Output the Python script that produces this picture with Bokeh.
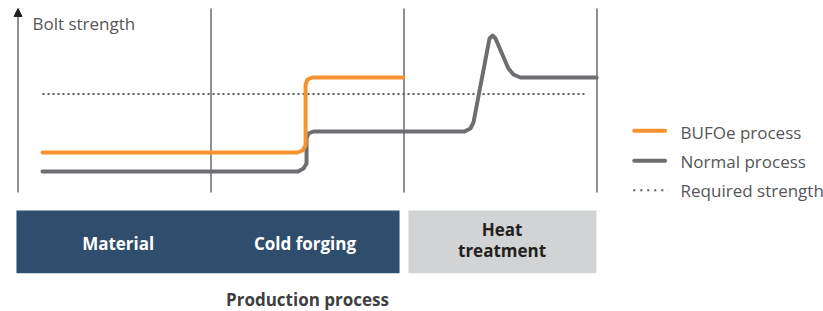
from bokeh.plotting import figure
from bokeh.models import Range1d, Arrow, NormalHead
from bokeh.core.properties import value
from bokeh.embed import file_html
from bokeh.resources import INLINE

# ---- data (x in process-stage units, y in relative strength units) ----
stage_edges = [1.0, 2.0, 3.0]
axis_top = 184

bufoe_x = [0.127, 1.448, 1.474, 1.490, 1.490, 1.500, 1.526, 1.995]
bufoe_y = [40, 40, 42, 47, 108, 113, 115, 115]

normal_x = [0.127, 1.451, 1.479, 1.495, 1.495, 1.505, 1.531, 2.313, 2.344, 2.360,
            2.443, 2.459, 2.474, 2.541, 2.567, 2.603, 2.998]
normal_y = [21, 21, 24, 29, 54, 59, 61, 61, 64, 70, 154, 157, 154, 124, 118, 115, 115]

required_x = [0.127, 2.935]
required_level = 98.5

box_left = [-0.008, 2.023]
box_right = [1.977, 2.997]
box_colors = ["#2f4e6e", "#d1d3d4"]
box_top, box_bottom = -18, -80.7

stage_names = ["Material", "Cold forging"]
stage_name_x = [0.519, 1.487]
heat_lines = ["Heat", "treatment"]
heat_x = 2.508
heat_y = [-37, -58]

legend_labels = ["BUFOe process", "Normal process", "Required strength"]
legend_line_y = [61.7, 31.7, 2.3]
legend_text_y = [60, 31, 2]

ORANGE = "#f7922f"
GRAY = "#6d6e71"
DOT = "#58595b"
TXT = "#555658"
FONT = value("Open Sans")

p = figure(width=823, height=311, output_backend="svg", toolbar_location=None,
           x_range=Range1d(-0.0907, 4.1736), y_range=Range1d(-119, 192),
           min_border=0, outline_line_color=None)
p.axis.visible = False
p.grid.visible = False

# stage separators
p.segment(x0=stage_edges, y0=[0] * 3, x1=stage_edges, y1=[axis_top] * 3,
          line_color="#231f20", line_width=1)

# y axis arrow
p.add_layout(Arrow(end=NormalHead(size=8, fill_color="#231f20", line_color="#231f20"),
                   x_start=0, y_start=0, x_end=0, y_end=axis_top,
                   line_color="#231f20", line_width=1))
p.text(x=[0.075], y=[169], text=["Bolt strength"], text_font=FONT,
       text_font_size="17px", text_color=TXT, text_baseline="alphabetic")

# required strength
p.line(required_x, [required_level] * 2, line_color=DOT, line_width=2, line_dash="2 3")

# series
p.line(normal_x, normal_y, line_color=GRAY, line_width=4, line_join="round", line_cap="round")
p.line(bufoe_x, bufoe_y, line_color=ORANGE, line_width=4, line_join="round", line_cap="round")

# process boxes
p.quad(left=box_left, right=box_right, top=box_top, bottom=box_bottom,
       fill_color=box_colors, line_color=None)
p.text(x=stage_name_x, y=[-51, -51], text=stage_names, text_font=FONT,
       text_font_style="bold", text_font_size="17px", text_color="white",
       text_align="center", text_baseline="alphabetic")
p.text(x=[heat_x] * 2, y=heat_y, text=heat_lines, text_font=FONT,
       text_font_style="bold", text_font_size="17px", text_color="#231f20",
       text_align="center", text_baseline="alphabetic")
p.text(x=[1.5], y=[-106.5], text=["Production process"], text_font=FONT,
       text_font_style="bold", text_font_size="17px", text_color="#3f3f41",
       text_align="center", text_baseline="alphabetic")

# legend
lx0, lx1, ltx = 3.193, 3.353, 3.433
p.segment(x0=[lx0], y0=[legend_line_y[0]], x1=[lx1], y1=[legend_line_y[0]],
          line_color=ORANGE, line_width=4, line_cap="round")
p.segment(x0=[lx0], y0=[legend_line_y[1]], x1=[lx1], y1=[legend_line_y[1]],
          line_color=GRAY, line_width=4, line_cap="round")
p.segment(x0=[3.188], y0=[legend_line_y[2]], x1=[3.37], y1=[legend_line_y[2]],
          line_color=DOT, line_width=2, line_dash="2 5")
p.text(x=[ltx] * 3, y=legend_text_y, text=legend_labels, text_font=FONT,
       text_font_size="17px", text_color=TXT, text_baseline="alphabetic")

open("out.html", "w").write(file_html(p, INLINE))
